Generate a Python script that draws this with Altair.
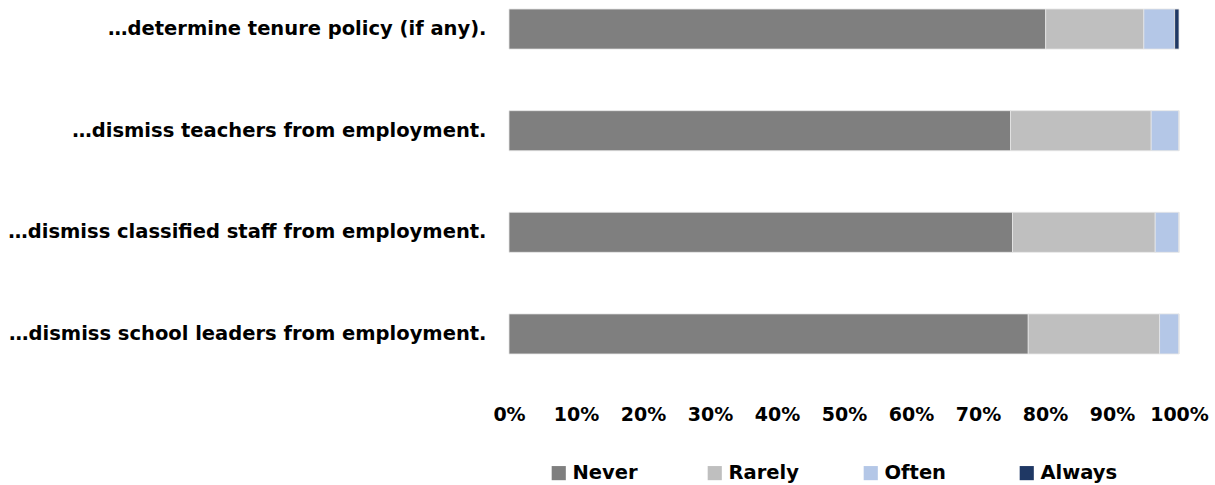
import altair as alt
import pandas as pd

questions = [
    "…determine tenure policy (if any).",
    "…dismiss teachers from employment.",
    "…dismiss classified staff from employment.",
    "…dismiss school leaders from employment.",
]
categories = ["Never", "Rarely", "Often", "Always"]
colors = ["#7f7f7f", "#bfbfbf", "#b4c7e7", "#1f3864"]

never = [80.1, 74.85, 75.15, 77.5]
rarely = [14.65, 21.0, 21.3, 19.6]
often = [4.6, 4.15, 3.55, 2.9]
always = [0.65, 0.0, 0.0, 0.0]

series = [never, rarely, often, always]
rows = []
for ci, (cat, vals) in enumerate(zip(categories, series)):
    for q, v in zip(questions, vals):
        rows.append({"question": q, "response": cat, "value": v / 100.0, "order": ci})
df = pd.DataFrame(rows)

FONT = "DejaVu Sans"

chart = (
    alt.Chart(df)
    .mark_bar(stroke="#e6e6e6", strokeWidth=0.8)
    .encode(
        x=alt.X(
            "value:Q",
            stack="zero",
            scale=alt.Scale(domain=[0, 1], nice=False),
            axis=alt.Axis(
                format=".0%",
                values=[i / 10 for i in range(11)],
                title=None,
                grid=False,
                domain=False,
                ticks=False,
                labelPadding=42,
                labelFontSize=19,
                labelFontWeight="bold",
                labelColor="#000000",
                labelFont=FONT,
                labelOverlap=False,
                labelFlush=False,
                labelBound=False,
            ),
        ),
        y=alt.Y(
            "question:N",
            sort=questions,
            scale=alt.Scale(paddingInner=0.606, paddingOuter=0.089),
            axis=alt.Axis(
                title=None,
                domain=False,
                ticks=False,
                labelPadding=23,
                labelFontSize=19.5,
                labelFontWeight="bold",
                labelColor="#000000",
                labelFont=FONT,
                labelLimit=600,
            ),
        ),
        color=alt.Color(
            "response:N",
            sort=categories,
            scale=alt.Scale(domain=categories, range=colors),
            legend=alt.Legend(
                title=None,
                orient="none",
                direction="horizontal",
                legendX=40,
                legendY=463,
                symbolType="square",
                symbolSize=200,
                symbolStrokeWidth=0,
                labelFontSize=19.5,
                labelFontWeight="bold",
                labelColor="#000000",
                labelFont=FONT,
                columns=4,
                gridAlign="all",
                columnPadding=55,
                labelOffset=4,
            ),
        ),
        order=alt.Order("order:Q"),
    )
    .properties(
        width=670,
        height=363,
        autosize=alt.AutoSizeParams(type="none"),
        padding={"left": 509, "top": 0, "right": 36, "bottom": 122},
    )
    .configure_view(stroke=None)
)

chart.save("out.html", embed_options={"renderer": "svg", "actions": False})
